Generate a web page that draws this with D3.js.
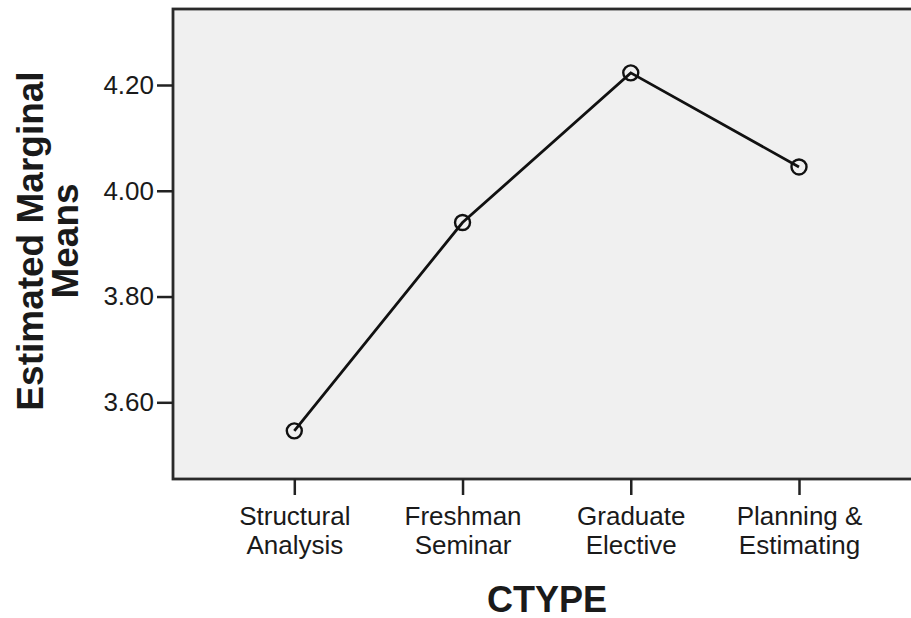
<!DOCTYPE html>
<html>
<head>
<meta charset="utf-8">
<script src="https://cdn.jsdelivr.net/npm/d3@7"></script>
<style>
  body { margin: 0; background: #fff; }
  text { font-family: "Liberation Sans", Arial, sans-serif; fill: #1a1a1a; }
</style>
</head>
<body>
<script>
let categories = ['Structural Analysis', 'Freshman Seminar', 'Graduate Elective', 'Planning & Estimating'];
let catLines = [['Structural', 'Analysis'], ['Freshman', 'Seminar'], ['Graduate', 'Elective'], ['Planning &', 'Estimating']];
let means = [3.546, 3.940, 4.223, 4.045];
let yTicks = [3.60, 3.80, 4.00, 4.20];

let width = 911, height = 618;
let plot = {left: 173, top: 9, right: 915, bottom: 479};

let svg = d3.select('body').append('svg')
  .attr('width', width)
  .attr('height', height);

let x = d3.scalePoint().domain(categories).range([294.3, 799]);
let y = d3.scaleLinear().domain([3.60, 4.20]).range([402.3, 85]);

// plot background + frame
svg.append('rect')
  .attr('x', plot.left)
  .attr('y', plot.top)
  .attr('width', plot.right - plot.left)
  .attr('height', plot.bottom - plot.top)
  .attr('fill', '#f0f0f0')
  .attr('stroke', '#2a2a2a')
  .attr('stroke-width', 2.8);

// y axis
let yAxis = svg.append('g')
  .attr('class', 'axis')
  .attr('transform', 'translate(' + plot.left + ',0)')
  .call(d3.axisLeft(y).tickValues(yTicks).tickFormat(d3.format('.2f')).tickSize(16).tickPadding(3));
yAxis.select('.domain').remove();
yAxis.selectAll('line').attr('stroke', '#222').attr('stroke-width', 2.5);
yAxis.selectAll('text').attr('font-size', 26).attr('fill', '#1a1a1a').attr('font-family', null);

// x axis
let xAxis = svg.append('g')
  .attr('class', 'axis')
  .attr('transform', 'translate(0,' + plot.bottom + ')')
  .call(d3.axisBottom(x).tickSize(16).tickFormat(''));
xAxis.select('.domain').remove();
xAxis.selectAll('line').attr('stroke', '#222').attr('stroke-width', 2.5);

xAxis.selectAll('.tick').append('text')
  .attr('fill', '#1a1a1a')
  .attr('font-size', 26)
  .attr('text-anchor', 'middle')
  .attr('font-family', null)
  .selectAll('tspan')
  .data((d, i) => catLines[i])
  .join('tspan')
  .attr('x', 0)
  .attr('y', (d, i) => 46 + i * 29)
  .text(d => d);

// axis titles
svg.append('text')
  .attr('x', 547)
  .attr('y', 612)
  .attr('text-anchor', 'middle')
  .attr('font-size', 36)
  .attr('font-weight', 'bold')
  .attr('fill', '#000')
  .text('CTYPE');

let yt = svg.append('text')
  .attr('transform', 'translate(0,241) rotate(-90)')
  .attr('text-anchor', 'middle')
  .attr('font-size', 37)
  .attr('font-weight', 'bold')
  .attr('fill', '#000');
yt.append('tspan').attr('x', 0).attr('y', 43).text('Estimated Marginal');
yt.append('tspan').attr('x', 0).attr('y', 78).text('Means');

// line + markers
let line = d3.line()
  .x((d, i) => x(categories[i]))
  .y(d => y(d));

svg.append('path')
  .attr('d', line(means))
  .attr('fill', 'none')
  .attr('stroke', '#111')
  .attr('stroke-width', 2.8);

svg.selectAll('circle.pt')
  .data(means)
  .join('circle')
  .attr('class', 'pt')
  .attr('cx', (d, i) => x(categories[i]))
  .attr('cy', d => y(d))
  .attr('r', 7.5)
  .attr('fill', 'none')
  .attr('stroke', '#111')
  .attr('stroke-width', 2.4);
</script>
</body>
</html>
